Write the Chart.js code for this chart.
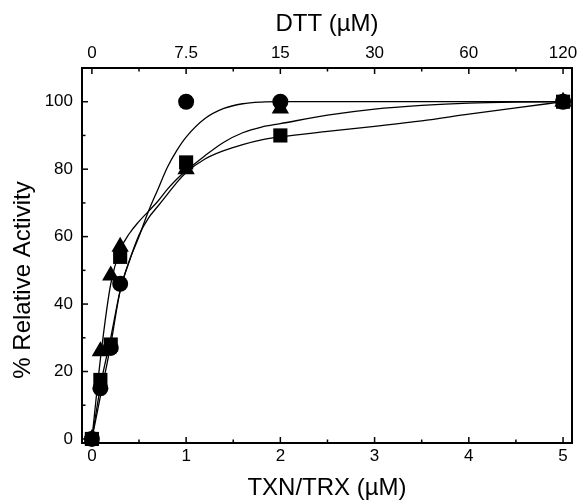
<!DOCTYPE html>
<html>
<head>
<meta charset="utf-8">
<script src="https://cdn.jsdelivr.net/npm/chart.js@4.4.1/dist/chart.umd.min.js"></script>
<style>
  body { margin: 0; background: #fff; }
  #wrap { width: 582px; height: 503px; }
</style>
</head>
<body>
<div id="wrap"><canvas id="graph"></canvas></div>
<script>
// ---- mesures ----
const conc = [0, 0.09, 0.2, 0.3, 1, 2, 5]
const cercles = [0, 15, 27, 46, 100, 100, 100]
const carres = [0, 17.5, 28, 54, 82, 90, 100]
const triangles = [0, 26, 48.5, 57, 80, 98, 100]

// ---- courbes ajustées ----
const fitX = [0, 0.1, 0.2, 0.3, 0.4, 0.5, 0.6, 0.7, 0.8, 0.9, 1, 1.2, 1.4, 1.6, 1.8, 2, 2.5, 3, 3.5, 4, 4.5, 5]
const fitCercles = [0, 14, 28, 44, 53, 60, 67.5, 74, 80.5, 85.5, 89.5, 95, 98, 99.4, 99.9, 100, 100, 100, 100, 100, 100, 100]
const fitTriangles = [0, 26, 46, 56, 61, 64.5, 67.5, 70.5, 74, 77, 79.5, 84, 88, 90.8, 92.5, 93.5, 96, 97.8, 98.9, 99.6, 99.9, 100]
const fitCarres = [0, 17, 30, 44, 53, 60.5, 65.5, 69, 72.5, 76, 79, 83, 85.5, 87.3, 88.7, 89.6, 91.2, 92.7, 94.3, 96.3, 98.2, 100]

// ---- axes ----
const xTicks = [0, 1, 2, 3, 4, 5]
const xMinor = [0.5, 1.5, 2.5, 3.5, 4.5]
const dttLabels = ['0', '7.5', '15', '30', '60', '120']
const yTicks = [0, 20, 40, 60, 80, 100]
const yMinor = [10, 30, 50, 70, 90]
const yTitre = '% Relative Activity'

const police = '"Liberation Sans", Arial, sans-serif'

const pts = (xs, ys) => xs.map((x, i) => ({ x: x, y: ys[i] }))

function serie(ys, style, r) {
  return {
    data: pts(conc, ys),
    showLine: false,
    pointStyle: style,
    pointRadius: r,
    pointBackgroundColor: '#000',
    pointBorderColor: '#000',
    pointBorderWidth: 0,
    clip: false
  }
}

function courbe(ys) {
  return {
    data: pts(fitX, ys),
    showLine: true,
    pointRadius: 0,
    borderColor: '#000',
    borderWidth: 1.3,
    cubicInterpolationMode: 'monotone',
    fill: false
  }
}

// cadre + graduations vers l'intérieur + titre vertical
const cadre = {
  id: 'cadre',
  afterDraw(chart) {
    const { ctx, chartArea: a, scales } = chart
    ctx.save()
    ctx.strokeStyle = '#000'
    ctx.lineWidth = 2
    ctx.strokeRect(a.left, a.top, a.right - a.left, a.bottom - a.top)

    ctx.lineWidth = 1.5
    const trait = (x1, y1, x2, y2) => {
      ctx.beginPath(); ctx.moveTo(x1, y1); ctx.lineTo(x2, y2); ctx.stroke()
    }
    const gx = (vals, len) => vals.forEach(v => {
      const px = scales.x.getPixelForValue(v)
      trait(px, a.bottom, px, a.bottom - len)
      trait(px, a.top, px, a.top + len)
    })
    gx(xTicks, 6); gx(xMinor, 3.5)
    const gy = (vals, len) => vals.forEach(v => {
      const py = scales.y.getPixelForValue(v)
      trait(a.left, py, a.left + len, py)
    })
    gy(yTicks, 6); gy(yMinor, 3.5)

    ctx.translate(23, 280)
    ctx.rotate(-Math.PI / 2)
    ctx.fillStyle = '#000'
    ctx.font = '24px ' + police
    ctx.textAlign = 'center'
    ctx.textBaseline = 'middle'
    ctx.fillText(yTitre, 0, 0)
    ctx.restore()
  }
}

const tickFont = { family: police, size: 17 }
const titreFont = { family: police, size: 24 }

new Chart(document.getElementById('graph'), {
  type: 'scatter',
  data: {
    datasets: [
      serie(cercles, 'circle', 8),
      serie(carres, 'rect', 10),
      serie(triangles, 'triangle', 10),
      courbe(fitCercles),
      courbe(fitTriangles),
      courbe(fitCarres)
    ]
  },
  plugins: [cadre],
  options: {
    responsive: true,
    maintainAspectRatio: false,
    animation: false,
    layout: { padding: { left: 0, right: 6, top: 0, bottom: 0 } },
    plugins: { legend: { display: false }, tooltip: { enabled: false } },
    scales: {
      x: {
        type: 'linear',
        position: 'bottom',
        min: -0.105,
        max: 5.095,
        afterBuildTicks: s => { s.ticks = xTicks.map(v => ({ value: v })) },
        afterFit: s => { s.height = 60 },
        grid: { display: false, drawTicks: false },
        border: { display: false },
        ticks: { color: '#000', font: tickFont, padding: 3, maxRotation: 0, autoSkip: false },
        title: { display: true, text: 'TXN/TRX (µM)', color: '#000', font: titreFont, padding: { top: 0, bottom: 0 } }
      },
      x2: {
        type: 'linear',
        position: 'top',
        min: -0.105,
        max: 5.095,
        afterBuildTicks: s => { s.ticks = xTicks.map(v => ({ value: v })) },
        afterFit: s => { s.height = 68 },
        grid: { display: false, drawTicks: false },
        border: { display: false },
        ticks: {
          color: '#000', font: tickFont, padding: 4, maxRotation: 0, autoSkip: false,
          callback: (v, i) => dttLabels[i]
        },
        title: { display: true, text: 'DTT (µM)', color: '#000', font: titreFont, padding: { top: 10, bottom: 0 } }
      },
      y: {
        type: 'linear',
        min: -1.2,
        max: 110,
        afterBuildTicks: s => { s.ticks = yTicks.map(v => ({ value: v })) },
        afterFit: s => { s.width = 82 },
        grid: { display: false, drawTicks: false },
        border: { display: false },
        ticks: { color: '#000', font: tickFont, padding: 9, autoSkip: false }
      }
    }
  }
})
</script>
</body>
</html>
